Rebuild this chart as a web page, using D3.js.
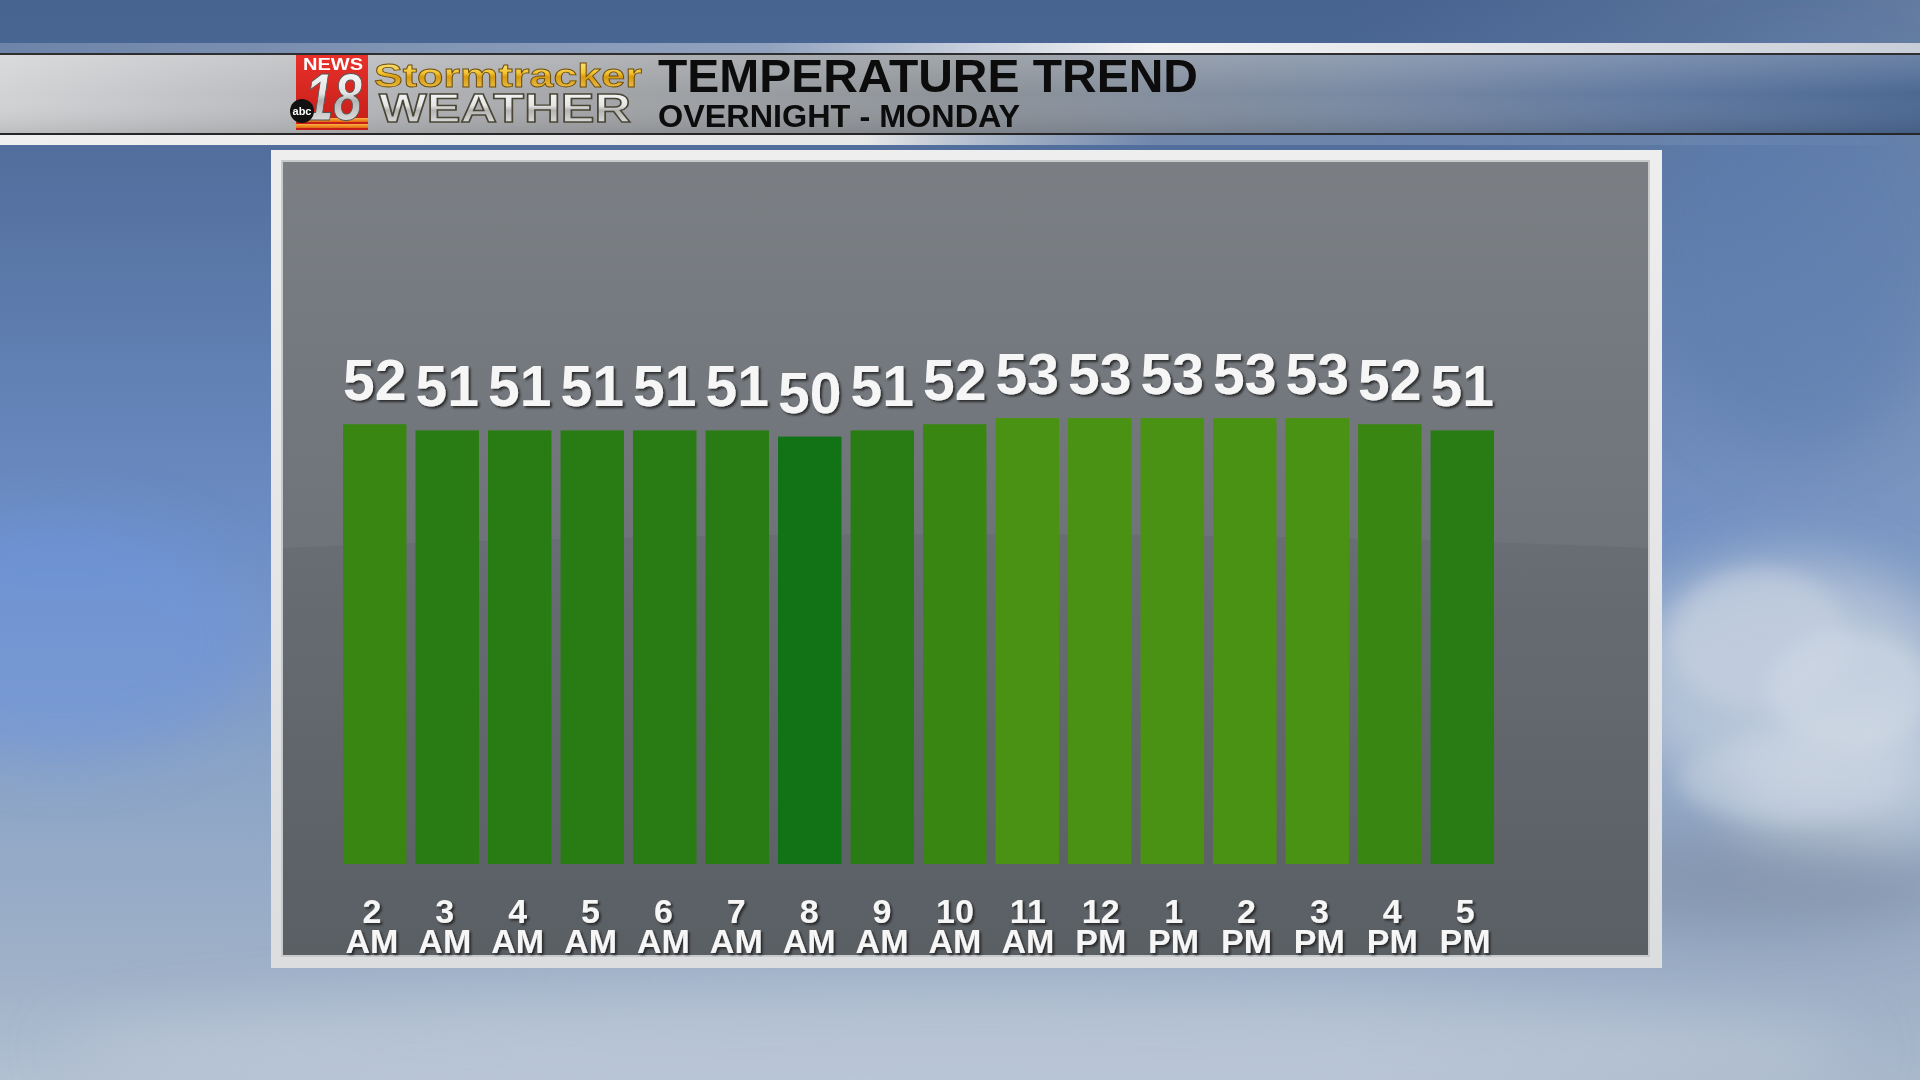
<!DOCTYPE html>
<html>
<head>
<meta charset="utf-8">
<script src="https://cdn.jsdelivr.net/npm/d3@7"></script>
<style>
html,body{margin:0;padding:0;background:#4d6a96;overflow:hidden;}
svg{display:block;}
</style>
</head>
<body>
<svg id="chart" width="1920" height="1080"></svg>
<script>
// ---- data ----
const hours   = ["2","3","4","5","6","7","8","9","10","11","12","1","2","3","4","5"];
const periods = ["AM","AM","AM","AM","AM","AM","AM","AM","AM","AM","PM","PM","PM","PM","PM","PM"];
const temps   = [52,51,51,51,51,51,50,51,52,53,53,53,53,53,52,51];
const tempLevels = [50,51,52,53];
const levelColors = ["#127216","#297c13","#3a8612","#4a9213"];
const titleText = "TEMPERATURE TREND";
const subtitleText = "OVERNIGHT - MONDAY";

const svg = d3.select("#chart");
const defs = svg.append("defs");

function lin(id, stops, x1=0,y1=0,x2=0,y2=1){
  const g = defs.append("linearGradient").attr("id",id)
    .attr("x1",x1).attr("y1",y1).attr("x2",x2).attr("y2",y2);
  stops.forEach(s=>g.append("stop").attr("offset",s[0]).attr("stop-color",s[1]).attr("stop-opacity",s[2]===undefined?1:s[2]));
  return g;
}
// background gradients
lin("bgV",[[0,"#46628f"],[0.25,"#5a78a8"],[0.5,"#6d8ec6"],[0.7,"#8aa3c6"],[0.9,"#9fb1c8"],[1,"#b2c0d2"]]);
lin("bgH",[[0,"#6d90d0",0.0],[0.7,"#7c92b4",0.0],[1,"#9aaac0",0.35]],0,0,1,0);
lin("band",[[0,"#d2d3d5"],[0.1,"#c2c3c6"],[0.3,"#a4a6a9"],[0.5,"#8e9399"],[0.7,"#7a8aa2"],[0.85,"#627aa0"],[1,"#4c6892"]],0,0,1,0);
lin("bandShade",[[0,"#ffffff",0.18],[0.5,"#ffffff",0],[1,"#000000",0.1]]);
lin("topStrip",[[0,"#ffffff",0.2],[0.4,"#ffffff",0.4],[0.6,"#f4f4f4",1],[1,"#c8ced8",1]],0,0,1,0);
lin("botStrip",[[0,"#f0f0f0",1],[0.45,"#e8e8e8",1],[0.6,"#c0c8d4",0.3],[1,"#ffffff",0.0]],0,0,1,0);
lin("panelBg",[[0,"#7b7f84"],[0.5,"#6e7379"],[1,"#5d6267"]]);
lin("frame",[[0,"#eeeeef"],[1,"#dcdddf"]]);
lin("gold",[[0,"#fff3a0"],[0.45,"#f2c431"],[0.55,"#d69a12"],[1,"#f5d060"]]);
lin("silver",[[0,"#ffffff"],[0.45,"#e4e4e4"],[0.55,"#b4b4b4"],[1,"#f4f4f4"]]);
lin("redBox",[[0,"#e8302a"],[1,"#c41d17"]]);
lin("orange",[[0,"#ffb040"],[1,"#e06a10"]]);

const blur = defs.append("filter").attr("id","blur").attr("x","-50%").attr("y","-50%").attr("width","200%").attr("height","200%");
blur.append("feGaussianBlur").attr("stdDeviation",28);
const blur2 = defs.append("filter").attr("id","blur2").attr("x","-50%").attr("y","-50%").attr("width","200%").attr("height","200%");
blur2.append("feGaussianBlur").attr("stdDeviation",10);
const shadow = defs.append("filter").attr("id","tshadow").attr("x","-20%").attr("y","-20%").attr("width","140%").attr("height","140%");
shadow.append("feDropShadow").attr("dx",2).attr("dy",2).attr("stdDeviation",1.2).attr("flood-color","#1a1a1a").attr("flood-opacity",0.85);

// ---- background ----
svg.append("rect").attr("width",1920).attr("height",1080).attr("fill","url(#bgV)");
svg.append("rect").attr("width",1920).attr("height",1080).attr("fill","url(#bgH)");
const bgBlobs = svg.append("g").attr("filter","url(#blur)");
bgBlobs.append("ellipse").attr("cx",60).attr("cy",640).attr("rx",200).attr("ry",120).attr("fill","#6e95dc").attr("opacity",0.55);
bgBlobs.append("ellipse").attr("cx",1790).attr("cy",680).attr("rx",170).attr("ry",120).attr("fill","#c8d3e0").attr("opacity",0.7);
bgBlobs.append("ellipse").attr("cx",1850).attr("cy",780).attr("rx",120).attr("ry",70).attr("fill","#d6dee8").attr("opacity",0.6);
bgBlobs.append("ellipse").attr("cx",1760).attr("cy",880).attr("rx",200).attr("ry",50).attr("fill","#7d8ca4").attr("opacity",0.6);
bgBlobs.append("ellipse").attr("cx",960).attr("cy",1050).attr("rx",900).attr("ry",60).attr("fill","#c0cad8").attr("opacity",0.6);
bgBlobs.append("ellipse").attr("cx",1800).attr("cy",250).attr("rx",150).attr("ry",200).attr("fill","#5a7cb0").attr("opacity",0.5);
const cl = svg.append("g").attr("filter","url(#blur2)");
cl.append("ellipse").attr("cx",1760).attr("cy",640).attr("rx",90).attr("ry",70).attr("fill","#cad4e2").attr("opacity",0.55);
cl.append("ellipse").attr("cx",1850).attr("cy",690).attr("rx",80).attr("ry",60).attr("fill","#d2dbe6").attr("opacity",0.55);
cl.append("ellipse").attr("cx",1790).attr("cy",780).attr("rx",110).attr("ry",40).attr("fill","#c8d2e0").attr("opacity",0.5);

// ---- header band ----
const hdr = svg.append("g");
hdr.append("rect").attr("x",0).attr("y",43).attr("width",1920).attr("height",10).attr("fill","url(#topStrip)");
hdr.append("rect").attr("x",0).attr("y",53).attr("width",1920).attr("height",2).attr("fill","#2e2e30");
hdr.append("rect").attr("x",0).attr("y",55).attr("width",1920).attr("height",78).attr("fill","url(#band)");
hdr.append("rect").attr("x",0).attr("y",55).attr("width",1920).attr("height",78).attr("fill","url(#bandShade)");
hdr.append("rect").attr("x",0).attr("y",133).attr("width",1920).attr("height",2).attr("fill","#262628");
hdr.append("rect").attr("x",0).attr("y",135).attr("width",1920).attr("height",10).attr("fill","url(#botStrip)");

// logo
const logo = hdr.append("g").attr("font-family","Liberation Sans, Arial, sans-serif").attr("font-weight","bold");
logo.append("rect").attr("x",296).attr("y",55).attr("width",72).attr("height",75).attr("fill","url(#redBox)");
logo.append("rect").attr("x",296).attr("y",118).attr("width",72).attr("height",4).attr("fill","url(#orange)");
logo.append("rect").attr("x",296).attr("y",124).attr("width",72).attr("height",4).attr("fill","url(#orange)");
logo.append("text").attr("x",303).attr("y",70).attr("textLength",60).attr("lengthAdjust","spacingAndGlyphs")
  .attr("font-size",16).attr("fill","#ffffff").text("NEWS");
logo.append("text").attr("x",305).attr("y",120).attr("textLength",57).attr("lengthAdjust","spacingAndGlyphs")
  .attr("font-style","italic").attr("font-size",66)
  .attr("fill","url(#silver)").attr("stroke","#555").attr("stroke-width",1).text("18");
logo.append("circle").attr("cx",302).attr("cy",111).attr("r",12).attr("fill","#111");
logo.append("text").attr("x",302).attr("y",115).attr("text-anchor","middle")
  .attr("font-size",11).attr("fill","#fff").text("abc");
logo.append("text").attr("x",374).attr("y",87).attr("textLength",268).attr("lengthAdjust","spacingAndGlyphs")
  .attr("font-size",34)
  .attr("fill","url(#gold)").attr("stroke","#6b4a08").attr("stroke-width",0.8).text("Stormtracker");
logo.append("text").attr("x",379).attr("y",122).attr("textLength",252).attr("lengthAdjust","spacingAndGlyphs")
  .attr("font-size",41)
  .attr("fill","url(#silver)").attr("stroke","#4a4636").attr("stroke-width",1.4).text("WEATHER");

hdr.append("text").attr("x",658).attr("y",92).attr("textLength",540).attr("lengthAdjust","spacingAndGlyphs")
  .attr("font-family","Liberation Sans, Arial, sans-serif").attr("font-weight","bold").attr("font-size",47)
  .attr("fill","#0c0c0c").text(titleText);
hdr.append("text").attr("x",658).attr("y",127).attr("textLength",362).attr("lengthAdjust","spacingAndGlyphs")
  .attr("font-family","Liberation Sans, Arial, sans-serif").attr("font-weight","bold").attr("font-size",32)
  .attr("fill","#0c0c0c").text(subtitleText);

// ---- panel ----
const panel = svg.append("g");
panel.append("rect").attr("x",271).attr("y",150).attr("width",1391).attr("height",818).attr("fill","url(#frame)");
panel.append("rect").attr("x",281).attr("y",160).attr("width",1369).attr("height",797).attr("fill","#c9cacc");
panel.append("rect").attr("x",283).attr("y",162).attr("width",1365).attr("height",793).attr("fill","url(#panelBg)");
// subtle horizon curve
panel.append("path")
  .attr("d","M283,548 Q965,520 1648,548 L1648,955 L283,955 Z")
  .attr("fill","#4e5358").attr("opacity",0.18);

// ---- chart ----
const x = d3.scaleBand().domain(d3.range(temps.length)).range([343,1494]).paddingInner(0.125).paddingOuter(0);
const xLab = d3.scaleBand().domain(d3.range(temps.length)).range([340,1497]).paddingInner(0.125).paddingOuter(0);
const y = d3.scaleLinear().domain([-19,53]).range([864,418]);
const color = d3.scaleOrdinal().domain(tempLevels).range(levelColors);

const chart = svg.append("g");
chart.selectAll("rect.bar").data(temps).join("rect").attr("class","bar")
  .attr("x",(d,i)=>x(i)).attr("width",x.bandwidth())
  .attr("y",d=>y(d)).attr("height",d=>y.range()[0]-y(d))
  .attr("fill",d=>color(d));

chart.selectAll("text.val").data(temps).join("text").attr("class","val")
  .attr("x",(d,i)=>x(i)+x.bandwidth()/2).attr("y",d=>y(d)-24)
  .attr("text-anchor","middle")
  .attr("font-family","Liberation Sans, Arial, sans-serif").attr("font-weight","bold").attr("font-size",57)
  .attr("fill","#f6f6f6").attr("filter","url(#tshadow)")
  .text(d=>d);

const xl = chart.selectAll("g.xl").data(hours).join("g").attr("class","xl")
  .attr("transform",(d,i)=>`translate(${xLab(i)+xLab.bandwidth()/2},0)`)
  .attr("font-family","Liberation Sans, Arial, sans-serif").attr("font-weight","bold").attr("font-size",34)
  .attr("fill","#f6f6f6").attr("text-anchor","middle").attr("filter","url(#tshadow)");
xl.append("text").attr("y",923).text(d=>d);
xl.append("text").attr("y",953).text((d,i)=>periods[i]);
</script>
</body>
</html>
